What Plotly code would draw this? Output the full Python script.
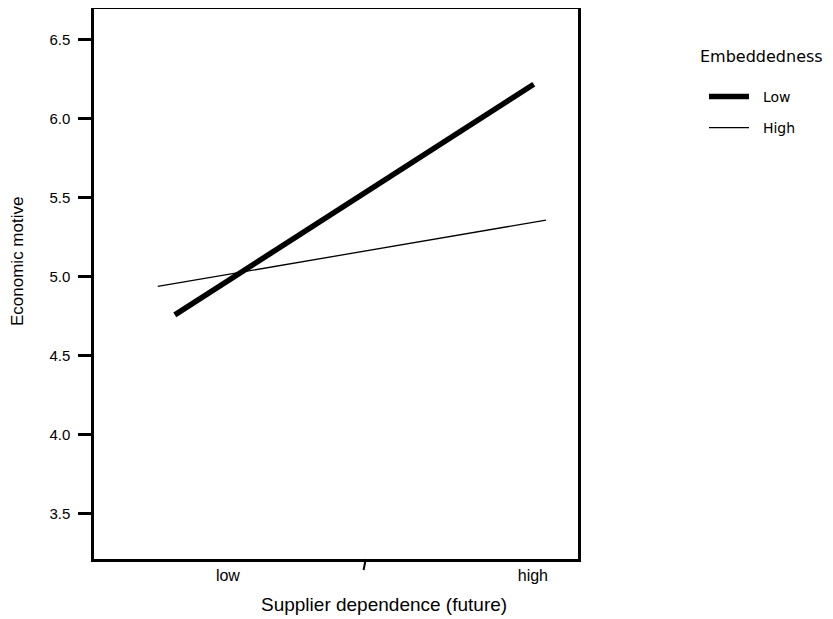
import plotly.graph_objects as go

# Data
x_tick_vals = [0, 1]
x_tick_labels = ["low", "high"]
low_x = [-0.174, 1.003]
low_y = [4.76, 6.22]
high_x = [-0.230, 1.043]
high_y = [4.94, 5.36]
y_ticks = [3.5, 4.0, 4.5, 5.0, 5.5, 6.0, 6.5]

fig = go.Figure()
fig.add_trace(go.Scatter(x=low_x, y=low_y, mode="lines", name="  Low",
                         line=dict(color="black", width=5.5), legendgroup="a"))
fig.add_trace(go.Scatter(x=high_x, y=high_y, mode="lines", name="  High",
                         line=dict(color="black", width=1.3), legendgroup="b"))

font = "Liberation Sans, Arial, sans-serif"
lfont = "DejaVu Sans, Verdana, sans-serif"
OFF = 8  # page body offset
W, H = 833 - OFF, 619 - OFF
# plot area in reference pixels: x 94..578, y 9..559
L = 94 - OFF
T = 9 - OFF
R = W - (578 - OFF)
B = H - (559 - OFF)
pw = W - L - R
ph = H - T - B


def px(xr):
    return (xr - OFF - L) / pw


def py(yr):
    return 1 - (yr - OFF - T) / ph


fig.update_layout(
    width=W, height=H,
    margin=dict(l=L, r=R, t=T, b=B, autoexpand=False),
    paper_bgcolor="white", plot_bgcolor="white",
    font=dict(family=font, color="black", size=15),
    showlegend=True,
    legend=dict(x=px(704), y=py(38), xanchor="left", yanchor="top",
                title=dict(text=" <br> ", font=dict(size=16.5, family=lfont)),
                font=dict(size=14, family=lfont), tracegroupgap=10,
                itemwidth=40),
    xaxis=dict(range=[-0.439, 1.148], tickvals=x_tick_vals, ticktext=x_tick_labels,
               showline=True, linecolor="black", linewidth=2.5, mirror=True,
               showgrid=False, zeroline=False, ticks="", tickfont=dict(size=16)),
    yaxis=dict(range=[3.215, 6.696], tickvals=y_ticks, ticktext=[f"{v:.1f}" for v in y_ticks],
               showline=True, linecolor="black", linewidth=2.5, mirror=True,
               showgrid=False, zeroline=False, ticks="outside", ticklen=13,
               tickwidth=2.5, tickcolor="black", tickfont=dict(size=15),
               ticklabelstandoff=5),
    annotations=[
        dict(text="Embeddedness", x=px(698), y=py(56),
             xref="paper", yref="paper", showarrow=False,
             font=dict(size=16, family=lfont), xanchor="left", yanchor="middle"),
        dict(text="Supplier dependence (future)", x=px(384), y=py(604),
             xref="paper", yref="paper", showarrow=False,
             font=dict(size=19, family=font), xanchor="center", yanchor="middle"),
        dict(text="Economic motive", x=px(18), y=py(262),
             xref="paper", yref="paper", showarrow=False, textangle=-90,
             font=dict(size=17, family=font), xanchor="center", yanchor="middle"),
    ],
)
# small stray tick on the x-axis seen in the reference
fig.add_shape(type="line", xref="x", yref="paper", x0=0.452, x1=0.445,
              y0=0.0, y1=-0.02, line=dict(color="black", width=2))

fig.write_html("out.html")
